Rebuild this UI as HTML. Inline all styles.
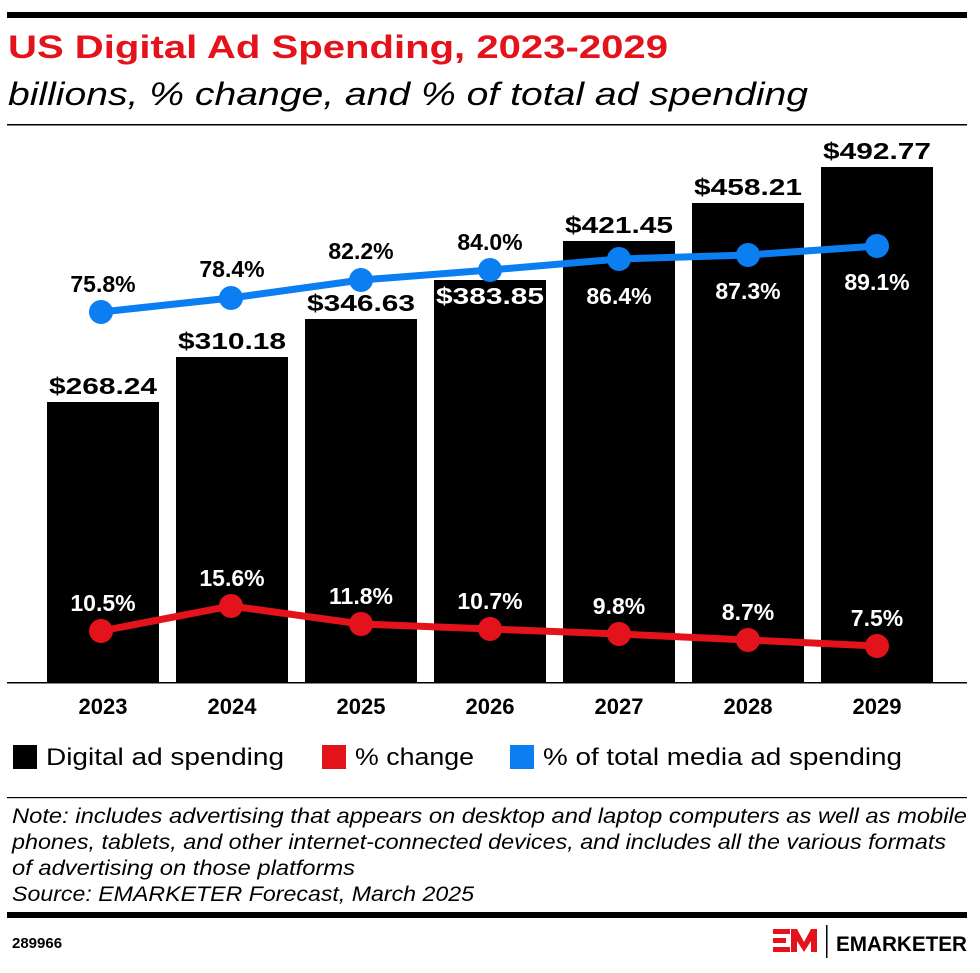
<!DOCTYPE html><html><head><style>body{margin:0;background:#fff;width:980px;height:968px;overflow:hidden;font-family:"Liberation Sans",sans-serif}</style></head><body>
<svg width="980" height="968" xmlns="http://www.w3.org/2000/svg" font-family="Liberation Sans, sans-serif">
<rect x="7" y="12" width="960" height="6" fill="#000"/>
<text x="8" y="58" font-size="32" font-weight="bold" fill="#e4131b" textLength="660" lengthAdjust="spacingAndGlyphs">US Digital Ad Spending, 2023-2029</text>
<text x="8" y="105" font-size="32" font-style="italic" fill="#000" textLength="800" lengthAdjust="spacingAndGlyphs">billions, % change, and % of total ad spending</text>
<rect x="7" y="124" width="960" height="1.5" fill="#000"/>
<g fill="#000">
<rect x="47" y="402" width="112" height="281"/><rect x="176" y="357" width="112" height="326"/><rect x="305" y="319" width="112" height="364"/><rect x="434" y="280" width="112" height="403"/><rect x="563" y="241" width="112" height="442"/><rect x="692" y="203" width="112" height="480"/><rect x="821" y="167" width="112" height="516"/>
</g>
<rect x="7" y="682" width="960" height="1.5" fill="#000"/>
<g font-size="23" font-weight="bold" text-anchor="middle" fill="#000">
<text x="103" y="394" textLength="108" lengthAdjust="spacingAndGlyphs">$268.24</text><text x="232" y="349" textLength="108" lengthAdjust="spacingAndGlyphs">$310.18</text><text x="361" y="311" textLength="108" lengthAdjust="spacingAndGlyphs">$346.63</text><text x="490" y="304" fill="#fff" textLength="108" lengthAdjust="spacingAndGlyphs">$383.85</text><text x="619" y="233" textLength="108" lengthAdjust="spacingAndGlyphs">$421.45</text><text x="748" y="195" textLength="108" lengthAdjust="spacingAndGlyphs">$458.21</text><text x="877" y="159" textLength="108" lengthAdjust="spacingAndGlyphs">$492.77</text>
</g>
<g font-size="22" font-weight="bold" text-anchor="middle" fill="#000">
<text x="103" y="714">2023</text><text x="232" y="714">2024</text><text x="361" y="714">2025</text><text x="490" y="714">2026</text><text x="619" y="714">2027</text><text x="748" y="714">2028</text><text x="877" y="714">2029</text>
</g>
<polyline points="101,312 231,298 361,280 490,270 619,259 748,255 877,246" fill="none" stroke="#0b7ef2" stroke-width="7"/>
<g fill="#0b7ef2"><circle cx="101" cy="312" r="12"/><circle cx="231" cy="298" r="12"/><circle cx="361" cy="280" r="12"/><circle cx="490" cy="270" r="12"/><circle cx="619" cy="259" r="12"/><circle cx="748" cy="255" r="12"/><circle cx="877" cy="246" r="12"/></g>
<polyline points="101,631 231,606 361,624 490,629 619,634 748,640 877,646" fill="none" stroke="#e4131b" stroke-width="7"/>
<g fill="#e4131b"><circle cx="101" cy="631" r="12"/><circle cx="231" cy="606" r="12"/><circle cx="361" cy="624" r="12"/><circle cx="490" cy="629" r="12"/><circle cx="619" cy="634" r="12"/><circle cx="748" cy="640" r="12"/><circle cx="877" cy="646" r="12"/></g>
<g font-size="23" text-anchor="middle" font-weight="bold">
<text x="103" y="292" fill="#000">75.8%</text><text x="232" y="277" fill="#000">78.4%</text><text x="361" y="259" fill="#000">82.2%</text><text x="490" y="250" fill="#000">84.0%</text><text x="619" y="304" fill="#fff">86.4%</text><text x="748" y="299" fill="#fff">87.3%</text><text x="877" y="290" fill="#fff">89.1%</text>
<g fill="#fff"><text x="103" y="611">10.5%</text><text x="232" y="586">15.6%</text><text x="361" y="604">11.8%</text><text x="490" y="609">10.7%</text><text x="619" y="614">9.8%</text><text x="748" y="620">8.7%</text><text x="877" y="626">7.5%</text></g>
</g>
<g font-size="24" fill="#000">
<rect x="13" y="745" width="24" height="24" fill="#000"/><text x="46" y="765" textLength="238" lengthAdjust="spacingAndGlyphs">Digital ad spending</text>
<rect x="322" y="745" width="24" height="24" fill="#e4131b"/><text x="355" y="765" textLength="119" lengthAdjust="spacingAndGlyphs">% change</text>
<rect x="510" y="745" width="24" height="24" fill="#0b7ef2"/><text x="543" y="765" textLength="359" lengthAdjust="spacingAndGlyphs">% of total media ad spending</text>
</g>
<rect x="7" y="797" width="960" height="1.2" fill="#000"/>
<g font-size="21" font-style="italic" fill="#000" lengthAdjust="spacingAndGlyphs">
<text x="12" y="823" textLength="955" lengthAdjust="spacingAndGlyphs">Note: includes advertising that appears on desktop and laptop computers as well as mobile</text>
<text x="12" y="849" textLength="934" lengthAdjust="spacingAndGlyphs">phones, tablets, and other internet-connected devices, and includes all the various formats</text>
<text x="12" y="875" textLength="343" lengthAdjust="spacingAndGlyphs">of advertising on those platforms</text>
<text x="12" y="901" textLength="462" lengthAdjust="spacingAndGlyphs">Source: EMARKETER Forecast, March 2025</text>
</g>
<rect x="7" y="912" width="960" height="6" fill="#000"/>
<text x="12" y="948" font-size="15" font-weight="bold">289966</text>
<g fill="#e4131b"><rect x="773" y="929" width="17" height="5"/><rect x="773" y="938" width="13" height="5"/><rect x="773" y="947" width="17" height="5"/>
<polygon points="791,929 797,929 804,942 811,929 817,929 817,952 811,952 811,941 804,952 797,941 797,952 791,952"/></g>
<rect x="826" y="925" width="1.5" height="33" fill="#000"/>
<text x="836" y="951" font-size="21" font-weight="bold" textLength="131" lengthAdjust="spacingAndGlyphs">EMARKETER</text>
</svg></body></html>
